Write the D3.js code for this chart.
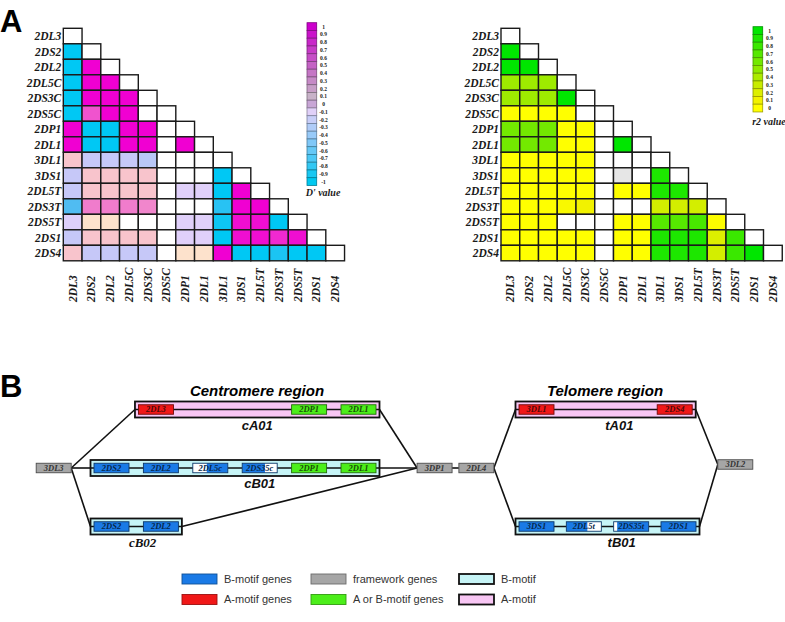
<!DOCTYPE html>
<html>
<head>
<meta charset="utf-8">
<script src="https://cdn.jsdelivr.net/npm/d3@7"></script>
<style>body{margin:0;background:#fff}</style>
</head>
<body>
<div id="fig"></div>
<script>
// ---- data ----
const genes = ["2DL3","2DS2","2DL2","2DL5C","2DS3C","2DS5C","2DP1","2DL1","3DL1","3DS1","2DL5T","2DS3T","2DS5T","2DS1","2DS4"];

// lower triangle, row i holds columns 0..i-1 (null = not computed, white)
const dPrimeRows = [
  [],
  [-1],
  [-1, 1],
  [-1, 1, 1],
  [-1, 1, 1, 1],
  [-1, 0.7, 1, 1, null],
  [1, -1, -1, 1, 1, null],
  [1, -1, -1, 1, 1, null, 1],
  [0.2, -0.25, -0.25, -0.25, -0.3, null, null, null],
  [-0.25, 0.2, 0.2, 0.2, 0.2, null, null, null, -1],
  [-0.25, 0.2, 0.2, 0.2, 0.2, null, -0.1, -0.1, -1, 1],
  [-0.7, 0.55, 0.55, 0.55, 0.5, null, null, null, -0.85, 1, 1],
  [-0.12, 0.05, 0.05, null, null, null, -0.1, -0.1, -0.95, 0.95, 0.95, -1],
  [-0.25, 0.2, 0.2, 0.2, 0.2, null, -0.1, -0.1, -1, 0.95, 0.95, 0.85, 0.95],
  [0.2, -0.25, -0.25, -0.25, -0.25, null, 0.05, 0.05, 1, -1, -1, -0.9, -1, -1]
];

const r2Rows = [
  [],
  [1],
  [1, 1],
  [0.45, 0.45, 0.45],
  [0.45, 0.45, 0.45, 1],
  [0, 0, 0, 0, null],
  [0.6, 0.6, 0.6, 0, 0, null],
  [0.6, 0.6, 0.6, 0, 0, null, 1],
  [0, 0, 0, 0, 0, null, null, null],
  [0, 0, 0, 0, 0, null, "na", null, 0.9],
  [0, 0, 0, 0, 0, null, 0, 0, 0.9, 0.9],
  [0, 0, 0, 0.05, 0.1, null, null, null, 0.25, 0.25, 0.25],
  [0, 0, 0, null, null, null, 0, 0, 0.7, 0.7, 0.75, 0.02],
  [0, 0, 0, 0, 0, null, 0, 0, 0.9, 0.9, 0.9, 0.2, 0.8],
  [0, 0, 0, 0, 0, null, 0, 0, 0.9, 0.9, 0.9, 0.25, 0.8, 1]
];

const dLegendTicks = ["1","0.9","0.8","0.7","0.6","0.5","0.4","0.3","0.2","0.1","0",
                      "-0.1","-0.2","-0.3","-0.4","-0.5","-0.6","-0.7","-0.8","-0.9","-1"];
const r2LegendTicks = ["1","0.9","0.8","0.7","0.6","0.5","0.4","0.3","0.2","0.1","0"];

// panel B: haplotype, gene, class, slot
const hapGenes = [
  ["cA01","2DL3","A",0.9],
  ["cA01","2DP1","AB",4],
  ["cA01","2DL1","AB",5],
  ["cB01","2DS2","B",0],
  ["cB01","2DL2","B",1],
  ["cB01","2DL5c","B",2],
  ["cB01","2DS35c","B",3],
  ["cB01","2DP1","AB",4],
  ["cB01","2DL1","AB",5],
  ["cB02","2DS2","B",0],
  ["cB02","2DL2","B",1],
  ["tA01","3DL1","A",0],
  ["tA01","2DS4","A",2.92],
  ["tB01","3DS1","B",0],
  ["tB01","2DL5t","B",1],
  ["tB01","2DS35t","B",2],
  ["tB01","2DS1","B",3]
];
// genes only partly coloured: [gene, coloured from, coloured to]
const partialGenes = [["2DL5c",0.4,1],["2DS35c",0,0.65],["2DL5t",0,0.6],["2DS35t",0.1,1]];
// haplotype, motif, region, row, label slot
const haplotypes = [
  ["cA01","A","C",0,2.95],
  ["cB01","B","C",1,3],
  ["cB02","B","C",2,0.63],
  ["tA01","A","T",0,1.75],
  ["tB01","B","T",2,1.8]
];
// framework gene, region, slot, row
const frameworks = [["3DL3","C",-1.17,1],["3DP1","C",6.54,1],["2DL4","T",-1.27,1],["3DL2","T",4.2,0.94]];
const links = [["3DL3","cA01"],["3DL3","cB01"],["3DL3","cB02"],["cA01","3DP1"],["cB01","3DP1"],
               ["cB02","3DP1"],["3DP1","2DL4"],["2DL4","tA01"],["2DL4","tB01"],["tA01","3DL2"],["tB01","3DL2"]];
const legendItems = [["B-motif genes","B"],["A-motif genes","A"],["framework genes","F"],
                     ["A or B-motif genes","AB"],["B-motif","hapB"],["A-motif","hapA"]];

// ---- setup ----
const width = 785, height = 622;
const serif = "'Liberation Serif','Times New Roman',serif";
const sans = "'Liberation Sans',Arial,sans-serif";

const svg = d3.select("#fig").append("svg")
    .attr("width", width)
    .attr("height", height);

const dColor = d3.scaleLinear()
    .domain([-1, -0.7, -0.25, -0.1, 0.05, 0.2, 0.55, 1])
    .range(["#00c8f4","#50bcf2","#c6c8f8","#e0d0fa","#fde2cc","#f8c4cc","#f07ccc","#f000d2"]);
const dLegendColor = d3.scaleLinear()
    .domain([-1, -0.5, -0.1, 0, 0.1, 0.5, 1])
    .range(["#00c8f0","#80c8f8","#e0d0f8","#c8a6d6","#c8b2c8","#c462c4","#cc00cc"]);
const r2Color = d3.scaleLinear()
    .domain([0, 0.1, 0.3, 0.5, 1])
    .range(["#ffff00","#f2f200","#c8ec00","#90ea00","#00e600"]);

// panel letters
svg.append("text").attr("x", 0).attr("y", 32).text("A")
    .style("font-family", sans).style("font-weight", "bold").style("font-size", "31px");
svg.append("text").attr("x", 0).attr("y", 397).text("B")
    .style("font-family", sans).style("font-weight", "bold").style("font-size", "31px");

// ---- heatmaps ----
function heatmap(left, rows, color, legendColor, ticks, legendX, legendTop, title, titleY) {
  const x = d3.scaleBand().domain(genes).range([left, left + 15 * 18.75]);
  const y = d3.scaleBand().domain(genes).range([28.3, 28.3 + 15 * 15.5]);
  const g = svg.append("g");

  const cells = genes.flatMap((r, i) => genes.slice(0, i + 1).map((c, j) => ({
    r, c, v: j < i ? rows[i][j] : null
  })));

  g.selectAll("rect")
    .data(cells)
    .join("rect")
    .attr("x", d => x(d.c))
    .attr("y", d => y(d.r))
    .attr("width", x.bandwidth())
    .attr("height", y.bandwidth())
    .attr("fill", d => d.v === null ? "#fff" : d.v === "na" ? "#e6e6e6" : color(d.v))
    .attr("stroke", "#1a1a1a")
    .attr("stroke-width", 1.4);

  g.selectAll(".rowlab")
    .data(genes)
    .join("text")
    .attr("x", left - 2)
    .attr("y", d => y(d) + y.bandwidth() / 2)
    .attr("dy", "0.35em")
    .attr("text-anchor", "end")
    .text(d => d);

  g.selectAll(".collab")
    .data(genes)
    .join("text")
    .attr("transform", d => `translate(${x(d) + x.bandwidth() / 2 + 4},302) rotate(-90)`)
    .attr("text-anchor", "start")
    .text(d => d);

  g.selectAll("text")
    .style("font-family", serif)
    .style("font-weight", "bold")
    .style("font-style", "italic")
    .style("font-size", "11.5px")
    .attr("fill", "#1a1a1a");

  // legend
  const ly = d3.scaleBand().domain(ticks).range([legendTop, legendTop + ticks.length * 7.75]);
  const lg = svg.append("g");
  lg.selectAll("rect")
    .data(ticks)
    .join("rect")
    .attr("x", legendX)
    .attr("y", d => ly(d))
    .attr("width", 9.7)
    .attr("height", ly.bandwidth())
    .attr("fill", d => legendColor(+d))
    .attr("stroke", d => d3.color(legendColor(+d)).darker(1.3))
    .attr("stroke-width", 0.8);
  lg.selectAll("text")
    .data(ticks)
    .join("text")
    .attr("x", legendX + 16.5)
    .attr("y", d => ly(d) + ly.bandwidth() / 2)
    .attr("dy", "0.35em")
    .attr("text-anchor", "middle")
    .text(d => d)
    .style("font-family", serif)
    .style("font-weight", "bold")
    .style("font-size", "5.5px")
    .attr("fill", "#222");
  lg.append("text")
    .attr("x", legendX + 16)
    .attr("y", titleY)
    .attr("text-anchor", "middle")
    .text(title)
    .style("font-family", serif)
    .style("font-weight", "bold")
    .style("font-style", "italic")
    .style("font-size", "10px")
    .attr("fill", "#1a1a1a");
}

heatmap(63.3, dPrimeRows, dColor, dLegendColor, dLegendTicks, 307, 22.7, "D' value", 196);
heatmap(501, r2Rows, r2Color, r2Color, r2LegendTicks, 753, 26.7, "r2 value", 125);

// ---- panel B ----
const geneFill = {B: "#1a7ae6", A: "#f01818", AB: "#4cee1a", F: "#a6a6a6"};
const hapFill = {A: "#f8c6f4", B: "#c6f4f6"};
const slotX = {
  C: d3.scaleLinear().domain([0, 5]).range([94, 341]),
  T: d3.scaleLinear().domain([0, 3]).range([519, 661])
};
const rowY = d3.scaleLinear().domain([0, 2]).range([409.5, 526.5]);
const geneW = 35, geneH = 9.5, pad = 3.5;

const nodes = {};
haplotypes.forEach(([id, motif, region, row]) => {
  const slots = hapGenes.filter(d => d[0] === id).map(d => d[3]);
  const sx = slotX[region];
  nodes[id] = {x0: sx(d3.min(slots)) - pad, x1: sx(d3.max(slots)) + geneW + pad, y: rowY(row)};
});
frameworks.forEach(([id, region, slot, row]) => {
  const x0 = slotX[region](slot);
  nodes[id] = {x0, x1: x0 + geneW, y: rowY(row)};
});

const bg = svg.append("g");

// connecting lines
bg.selectAll(".link")
  .data(links)
  .join("line")
  .attr("x1", d => nodes[d[0]].x1)
  .attr("y1", d => nodes[d[0]].y)
  .attr("x2", d => nodes[d[1]].x0)
  .attr("y2", d => nodes[d[1]].y)
  .attr("stroke", "#111")
  .attr("stroke-width", 1.6);

// haplotype boxes
const hap = bg.selectAll(".hap")
  .data(haplotypes)
  .join("g");
hap.append("rect")
  .attr("x", d => nodes[d[0]].x0)
  .attr("y", d => nodes[d[0]].y - 8)
  .attr("width", d => nodes[d[0]].x1 - nodes[d[0]].x0)
  .attr("height", 16)
  .attr("fill", d => hapFill[d[1]])
  .attr("stroke", "#111")
  .attr("stroke-width", 1.8);
hap.append("line")
  .attr("x1", d => nodes[d[0]].x0)
  .attr("x2", d => nodes[d[0]].x1)
  .attr("y1", d => nodes[d[0]].y)
  .attr("y2", d => nodes[d[0]].y)
  .attr("stroke", "#111")
  .attr("stroke-width", 1.4);
hap.append("text")
  .attr("x", d => slotX[d[2]](d[4]) + geneW / 2)
  .attr("y", d => nodes[d[0]].y + 20)
  .attr("text-anchor", "middle")
  .text(d => d[0])
  .style("font-family", d => d[0] === "cB02" ? serif : sans)
  .style("font-weight", "bold")
  .style("font-style", "italic")
  .style("font-size", "13px")
  .attr("fill", "#111");

// genes (haplotype genes + framework genes)
const geneMarks = hapGenes.map(d => {
  const h = haplotypes.find(k => k[0] === d[0]);
  return {name: d[1], cls: d[2], x: slotX[h[2]](d[3]), y: rowY(h[3])};
}).concat(frameworks.map(d => ({name: d[0], cls: "F", x: nodes[d[0]].x0, y: nodes[d[0]].y})));

const gm = bg.selectAll(".gene")
  .data(geneMarks)
  .join("g");
gm.append("rect")
  .attr("x", d => d.x)
  .attr("y", d => d.y - geneH / 2)
  .attr("width", geneW)
  .attr("height", geneH)
  .attr("fill", d => partialGenes.some(p => p[0] === d.name) ? "#fff" : geneFill[d.cls]);
gm.filter(d => partialGenes.some(p => p[0] === d.name))
  .append("rect")
  .attr("x", d => d.x + geneW * partialGenes.find(p => p[0] === d.name)[1])
  .attr("y", d => d.y - geneH / 2)
  .attr("width", d => {
    const p = partialGenes.find(q => q[0] === d.name);
    return geneW * (p[2] - p[1]);
  })
  .attr("height", geneH)
  .attr("fill", d => geneFill[d.cls]);
gm.append("rect")
  .attr("x", d => d.x)
  .attr("y", d => d.y - geneH / 2)
  .attr("width", geneW)
  .attr("height", geneH)
  .attr("fill", "none")
  .attr("stroke", d => d3.color(geneFill[d.cls]).darker(2.2))
  .attr("stroke-width", 0.9);
gm.append("text")
  .attr("x", d => d.x + geneW / 2)
  .attr("y", d => d.y)
  .attr("dy", "0.35em")
  .attr("text-anchor", "middle")
  .text(d => d.name)
  .style("font-family", serif)
  .style("font-weight", "bold")
  .style("font-style", "italic")
  .style("font-size", "8.5px")
  .attr("fill", d => d3.color(geneFill[d.cls]).darker(3.2));

// region titles
svg.append("text").attr("x", 257).attr("y", 396).attr("text-anchor", "middle").text("Centromere region")
    .style("font-family", sans).style("font-weight", "bold").style("font-style", "italic").style("font-size", "15px");
svg.append("text").attr("x", 605).attr("y", 396).attr("text-anchor", "middle").text("Telomere region")
    .style("font-family", sans).style("font-weight", "bold").style("font-style", "italic").style("font-size", "15px");

// legend of panel B
const colX = [182, 311, 459];
const legRowY = d3.scaleLinear().domain([0, 1]).range([579, 599.5]);
const leg = svg.append("g").selectAll("g")
  .data(legendItems)
  .join("g")
  .attr("transform", (d, i) => `translate(${colX[Math.floor(i / 2)]},${legRowY(i % 2)})`);
leg.append("rect")
  .attr("x", 0)
  .attr("y", -5)
  .attr("width", 35)
  .attr("height", 10)
  .attr("fill", d => d[1] === "hapA" ? hapFill.A : d[1] === "hapB" ? hapFill.B : geneFill[d[1]])
  .attr("stroke", d => d[1].startsWith("hap") ? "#111" : d3.color(geneFill[d[1]]).darker(1.2))
  .attr("stroke-width", d => d[1].startsWith("hap") ? 1.8 : 0.9);
leg.append("text")
  .attr("x", 42)
  .attr("y", 0)
  .attr("dy", "0.35em")
  .text(d => d[0])
  .style("font-family", sans)
  .style("font-size", "11px")
  .attr("fill", "#333");
</script>
</body>
</html>
